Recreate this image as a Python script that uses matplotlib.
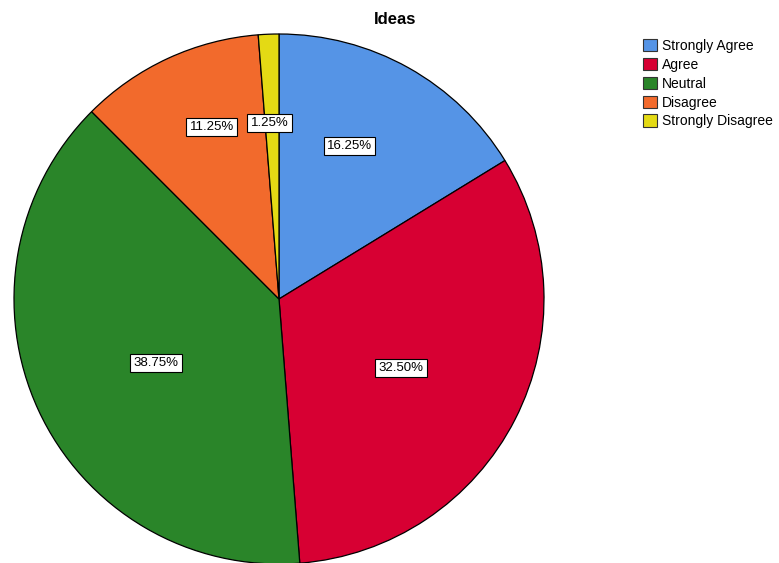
import numpy as np
import matplotlib.pyplot as plt
from matplotlib.patches import Patch

plt.rcParams['font.family'] = ['Liberation Sans', 'DejaVu Sans']

categories = ['Strongly Agree', 'Agree', 'Neutral', 'Disagree', 'Strongly Disagree']
percents = [16.25, 32.50, 38.75, 11.25, 1.25]
colors = ['#5594E6', '#D70033', '#2A8529', '#F26A2C', '#E4DA14']
# label placement: radial distance (fraction of radius), clockwise angle from 12 o'clock
label_dist = [0.636, 0.529, 0.523, 0.697, 0.665]
label_ang = [24.7, 119.5, 242.5, 338.7, 356.9]

fig = plt.figure(figsize=(7.79, 5.63), dpi=100)
W, H = 779, 563
cx, cy, r = 279, 299, 265
ax = fig.add_axes([(cx - r) / W, (H - cy - r) / H, 2 * r / W, 2 * r / H])

wedges, _ = ax.pie(percents, colors=colors, startangle=90, counterclock=False,
                   wedgeprops=dict(edgecolor='black', linewidth=0.9))
ax.set_xlim(-1, 1)
ax.set_ylim(-1, 1)
ax.set_aspect('equal')
ax.axis('off')

for p, d, a in zip(percents, label_dist, label_ang):
    t = np.deg2rad(90 - a)
    ax.text(d * np.cos(t), d * np.sin(t), f'{p:.2f}%', ha='center', va='center',
            fontsize=9.5, bbox=dict(boxstyle='square,pad=0.25', fc='white', ec='black', lw=0.8))

fig.text(395 / W, 1 - 20 / H, 'Ideas', ha='center', va='center', fontsize=12, fontweight='bold')

handles = [Patch(facecolor=c, edgecolor='#333333', linewidth=0.8) for c in colors]
fig.legend(handles, categories, loc='upper left', bbox_to_anchor=(643 / W, 1 - 39 / H),
           frameon=False, fontsize=10, handlelength=1.0, handleheight=1.0,
           handletextpad=0.35, labelspacing=0.35, borderpad=0, borderaxespad=0)

fig.savefig('out.png', dpi=100)
